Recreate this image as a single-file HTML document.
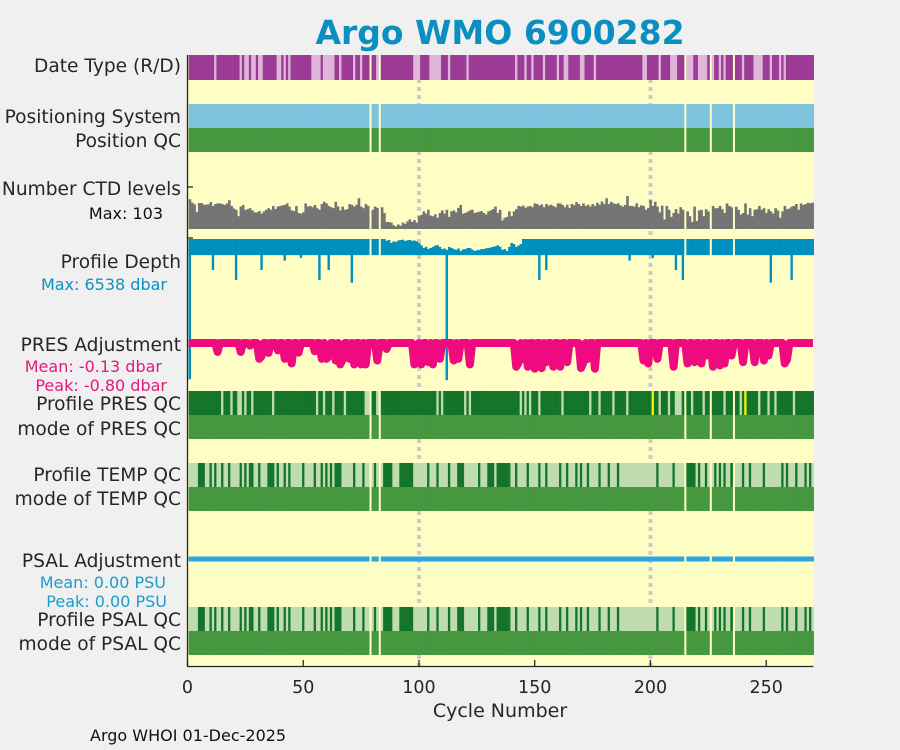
<!DOCTYPE html>
<html><head><meta charset="utf-8"><style>
html,body{margin:0;padding:0;background:#f0f0f0;}
svg{display:block;font-family:"DejaVu Sans","Liberation Sans",sans-serif;}
</style></head><body>
<svg id="chart" width="900" height="750" viewBox="0 0 900 750">
<rect x="0" y="0" width="900" height="750" fill="#f0f0f0"/>
<text x="500" y="44" text-anchor="middle" font-size="33" font-weight="bold" fill="#0a8fc0">Argo WMO 6900282</text>
<rect x="187.5" y="55" width="626" height="611" fill="#fefec4"/>
<g id="marks"></g>
<g font-size="18.6" fill="#262626" text-anchor="end">
<text x="181" y="72">Date Type (R/D)</text>
<text x="181" y="123">Positioning System</text>
<text x="181" y="147">Position QC</text>
<text x="181" y="195">Number CTD levels</text>
<text x="181" y="268">Profile Depth</text>
<text x="181" y="351">PRES Adjustment</text>
<text x="181" y="410">Profile PRES QC</text>
<text x="181" y="435">mode of PRES QC</text>
<text x="181" y="481">Profile TEMP QC</text>
<text x="181" y="505">mode of TEMP QC</text>
<text x="181" y="567">PSAL Adjustment</text>
<text x="181" y="626">Profile PSAL QC</text>
<text x="181" y="650">mode of PSAL QC</text>
</g>
<g font-size="16" text-anchor="end">
<text x="163" y="219" fill="#111">Max: 103</text>
<text x="167" y="290" fill="#0f90c0">Max: 6538 dbar</text>
<text x="162" y="372" fill="#e5187f">Mean: -0.13 dbar</text>
<text x="167" y="391" fill="#e5187f">Peak: -0.80 dbar</text>
<text x="166" y="588" fill="#1a9ccc">Mean: 0.00 PSU</text>
<text x="167" y="607" fill="#1a9ccc">Peak: 0.00 PSU</text>
</g>
<g id="axes"></g>
<text x="500" y="717" text-anchor="middle" font-size="19" fill="#262626">Cycle Number</text>
<text x="90" y="741" font-size="16" fill="#111">Argo WHOI 01-Dec-2025</text>
</svg>
<script>
const NS="http://www.w3.org/2000/svg";
const nCycles=270;
const gapCycles=[79,83,215,226,236];
const dateLightCycles=[12,23,25,26,28,29,31,32,39,40,42,44,54,55,56,57,59,60,61,62,63,66,72,75,82,98,99,100,105,106,107,108,109,113,121,142,146,149,154,160,163,164,170,171,176,197,198,204,209,210,211,216,217,218,221,222,223,224,227,230,232,240,245,246,247,248,252,256,258];
const ctdLevels=[93,82,77,53,81,81,76,76,77,84,72,78,80,80,78,75,80,90,72,64,60,40,70,75,60,62,65,58,52,52,56,48,55,60,65,60,72,62,70,72,74,75,80,70,58,56,72,50,48,52,80,70,72,68,75,65,60,78,85,80,72,68,65,85,70,58,70,60,62,78,75,70,76,96,70,65,78,72,0,60,70,66,0,68,50,22,22,20,12,8,14,10,20,16,24,30,22,28,20,40,44,55,48,60,42,40,46,35,50,58,48,60,38,55,58,52,66,75,48,50,54,58,60,50,52,54,56,50,45,55,58,62,70,50,60,27,35,38,55,40,55,62,72,70,73,66,70,72,68,80,78,73,77,68,78,73,76,72,68,80,80,75,68,76,66,78,74,84,78,72,80,72,76,70,78,72,82,76,86,78,96,78,85,80,78,80,74,70,75,103,72,72,70,80,68,74,72,60,65,90,72,85,70,52,73,30,72,60,38,50,62,48,68,60,0,55,40,22,70,25,58,60,40,62,55,0,72,65,65,72,62,50,80,72,68,0,70,60,45,50,80,45,65,40,60,62,72,60,65,50,62,55,48,65,58,35,55,72,62,64,70,72,78,60,80,75,78,82,80,82];
const ctdMax=103;
const depthTopCycles=[86,87,88,89,90,91,92,93,94,95,96,97,98,99,100,101,102,103,104,105,106,107,108,109,110,111,112,113,114,115,116,117,118,119,120,121,122,123,124,125,126,127,128,129,130,131,132,133,134,135,136,137,138,139,140,141,142,143,144];
const depthTopValues=[1480,1450,1560,1500,1520,1470,1450,1440,1490,1460,1450,1480,1470,1500,1560,1640,1740,1700,1780,1740,1700,1650,1640,1700,1780,1760,1810,1700,1740,1780,1810,1760,1850,1790,1780,1740,1740,1800,1850,1820,1810,1780,1780,1750,1740,1720,1700,1680,1640,1700,1810,1780,1850,1700,1560,1600,1700,1650,1600];
const depthDripCycles=[1,11,21,32,42,49,57,61,71,112,152,155,191,201,211,214,252,261];
const depthDripValues=[6500,2540,2900,2540,2200,2100,2900,2540,3000,6538,2900,2540,2200,2100,2540,2900,3000,2900];
const depthDefaultTop=1415;
const depthDefaultBottom=2000;
const presDipCycles=[13,23,27,31,32,35,39,42,45,48,55,58,60,61,64,66,67,70,72,75,77,82,86,98,99,101,104,106,109,115,117,122,142,143,145,147,150,153,155,158,161,164,170,171,173,176,197,199,203,210,216,219,222,224,227,230,232,235,240,245,249,251,258,259];
const presDipValues=[-0.27,-0.27,-0.08,-0.48,-0.4,-0.3,-0.22,-0.48,-0.62,-0.29,-0.25,-0.48,-0.48,-0.4,-0.53,-0.65,-0.5,-0.48,-0.65,-0.65,-0.65,-0.53,-0.18,-0.65,-0.5,-0.65,-0.58,-0.65,-0.48,-0.53,-0.48,-0.65,-0.72,-0.6,-0.48,-0.72,-0.78,-0.76,-0.58,-0.72,-0.72,-0.58,-0.76,-0.6,-0.48,-0.78,-0.53,-0.62,-0.48,-0.72,-0.62,-0.58,-0.62,-0.38,-0.72,-0.68,-0.62,-0.38,-0.58,-0.58,-0.53,-0.38,-0.62,-0.5];
const presQcLightCycles=[15,19,22,23,25,28,37,56,59,63,68,77,78,82,108,110,120,122,144,146,148,152,162,174,178,184,190,204,208,211,212,213,218,223,232,239,247,251,254,262];
const presQcYellowCycles=[201,241];
const tempQcDarkCycles=[5,6,7,10,12,15,18,23,25,27,28,31,35,36,37,39,42,44,50,55,58,60,62,64,65,66,72,76,81,85,86,87,88,92,93,94,95,96,97,104,108,113,117,118,119,126,130,131,132,134,135,136,137,138,139,142,147,152,155,161,164,168,170,173,178,182,186,203,210,216,217,218,219,221,224,228,230,232,235,240,243,249,257,259,263,267,269];
const psalQcDarkCycles=[5,6,7,10,12,15,18,23,25,27,28,31,35,36,37,39,42,44,50,55,58,60,62,64,65,66,72,76,81,85,86,87,88,92,93,94,95,96,97,104,108,113,117,118,119,126,130,131,132,134,135,136,137,138,139,142,147,152,155,161,164,168,170,173,178,182,186,203,210,216,217,218,219,221,224,228,230,232,235,240,243,249,257,259,263,267,269];
const xTicks=[0,50,100,150,200,250];
const refCycles=[100,200];

const X0=187.5,XPX=2.3148;
function xs(c){return X0+c*XPX;}
function yCtd(v){return 229-v*(33/ctdMax);}
function yDepth(p){return 200+p*0.02757;}
function yPres(v){return 343-v*33;}
const marks=document.getElementById('marks');
function rect(x,y,w,h,fill,name){
  const r=document.createElementNS(NS,'rect');
  r.setAttribute('x',x);r.setAttribute('y',y);r.setAttribute('width',w);r.setAttribute('height',h);r.setAttribute('fill',fill);
  
  
  marks.appendChild(r);return r;
}
refCycles.forEach(c=>{
  const l=document.createElementNS(NS,'line');
  l.setAttribute('x1',xs(c));l.setAttribute('x2',xs(c));l.setAttribute('y1',55);l.setAttribute('y2',666);
  l.setAttribute('stroke','#cccccc');l.setAttribute('stroke-width',4);l.setAttribute('stroke-dasharray','4 4');
  
  
  marks.appendChild(l);
});
function isGap(c){return gapCycles.indexOf(c)>=0;}
function cellX(c){const a=Math.max(0,c-0.5),b=Math.min(270.5,c+0.5);return [xs(a),xs(b)-xs(a)];}
for(let c=1;c<=nCycles;c++){
  if(isGap(c))continue;
  const [x,w]=cellX(c);
  rect(x,55,w+0.3,25,dateLightCycles.indexOf(c)>=0?'#dfb6da':'#9c3b95','date-type-cell');
  rect(x,104,w+0.3,24,'#7fc3de','positioning-system-cell');
  rect(x,128,w+0.3,24,'#46973f','position-qc-cell');
  let pc='#14752a';
  if(presQcLightCycles.indexOf(c)>=0)pc='#bfdcae';
  if(presQcYellowCycles.indexOf(c)>=0)pc='#f5f500';
  rect(x,391,w+0.3,24,pc,'profile-pres-qc-cell');
  rect(x,415,w+0.3,24,'#46973f','mode-pres-qc-cell');
  rect(x,463,w+0.3,24,tempQcDarkCycles.indexOf(c)>=0?'#14752a':'#bfdcae','profile-temp-qc-cell');
  rect(x,487,w+0.3,24,'#46973f','mode-temp-qc-cell');
  rect(x,607,w+0.3,24,psalQcDarkCycles.indexOf(c)>=0?'#14752a':'#bfdcae','profile-psal-qc-cell');
  rect(x,631,w+0.3,24,'#46973f','mode-psal-qc-cell');
  const v=ctdLevels[c-1];
  if(v>0)rect(x,yCtd(v),w+0.3,229-yCtd(v),'#747474','ctd-levels-bar');
  let top=depthDefaultTop;const ti=depthTopCycles.indexOf(c);if(ti>=0)top=depthTopValues[ti];
  let bot=depthDefaultBottom;const di=depthDripCycles.indexOf(c);
  rect(x,yDepth(top),w+0.3,yDepth(bot)-yDepth(top),'#0090bf','profile-depth-bar');
  if(di>=0)rect(x+w/2-1.2,yDepth(top),2.4,yDepth(depthDripValues[di])-yDepth(top),'#0090bf','profile-depth-drip');
  rect(x,556.5,w+0.3,5,'#2aa8dc','psal-adjustment-segment');
}
let pts=[xs(0.5)+','+yPres(0)];
for(let c=1;c<=nCycles;c++){
  const i=presDipCycles.indexOf(c);
  const v=i>=0?presDipValues[i]:0;
  pts.push(xs(c)+','+yPres(v));
}
pts.push(xs(270.2)+','+yPres(0));
const pl=document.createElementNS(NS,'polyline');
pl.setAttribute('points',pts.join(' '));pl.setAttribute('fill','none');pl.setAttribute('stroke','#ef0a80');
pl.setAttribute('stroke-width',8);pl.setAttribute('stroke-linejoin','round');


marks.appendChild(pl);
const axes=document.getElementById('axes');
function line(x1,y1,x2,y2,name){
  const l=document.createElementNS(NS,'line');
  l.setAttribute('x1',x1);l.setAttribute('y1',y1);l.setAttribute('x2',x2);l.setAttribute('y2',y2);
  l.setAttribute('stroke','#262626');l.setAttribute('stroke-width',1.3);
  
  
  axes.appendChild(l);
}
line(187.5,55,187.5,666.5,'y-axis-line');
line(187,666.5,813.5,666.5,'x-axis-line');
xTicks.forEach(t=>{
  line(xs(t),666.5,xs(t),660,'x-tick');
  const tx=document.createElementNS(NS,'text');
  tx.setAttribute('x',xs(t));tx.setAttribute('y',693);tx.setAttribute('text-anchor','middle');
  tx.setAttribute('font-size','17.5');tx.setAttribute('fill','#262626');tx.textContent=t;
  
  
  axes.appendChild(tx);
});
[187,238].forEach(y=>line(187.5,y,193,y,'y-tick'));
</script>
</body></html>
